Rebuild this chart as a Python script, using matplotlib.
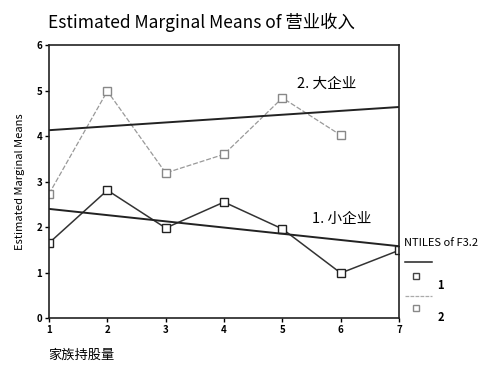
import matplotlib.pyplot as plt
from matplotlib.lines import Line2D

plt.rcParams['font.family'] = ['Noto Sans CJK SC', 'DejaVu Sans']

# family share levels (NTILES)
levels = [1, 2, 3, 4, 5, 6, 7]
small_means = [1.65, 2.81, 1.98, 2.55, 1.96, 0.99, 1.49]
large_levels = [1, 2, 3, 4, 5, 6]
large_means = [2.73, 4.99, 3.19, 3.60, 4.84, 4.02]

# fitted trend lines (end points at level 1 and 7)
trend_x = [1, 7]
small_trend = [2.40, 1.58]
large_trend = [4.13, 4.64]

fig = plt.figure(figsize=(4.97, 3.76), dpi=100)
ax = fig.add_axes([0.0986, 0.154, 0.7044, 0.726])

ax.plot(levels, small_means, color='#333333', linewidth=1.1,
        marker='s', markersize=6, markerfacecolor='white', markeredgecolor='#222222')
ax.plot(large_levels, large_means, color='#999999', linewidth=0.9, linestyle=(0, (4, 1.5)),
        marker='s', markersize=6, markerfacecolor='white', markeredgecolor='#888888')
ax.plot(trend_x, small_trend, color='#222222', linewidth=1.4)
ax.plot(trend_x, large_trend, color='#222222', linewidth=1.4)

ax.text(5.25, 5.05, '2. 大企业', fontsize=10.5, fontweight='medium')
ax.text(5.5, 2.1, '1. 小企业', fontsize=10.5, fontweight='medium')

ax.set_xlim(1, 7)
ax.set_ylim(0, 6)
ax.set_xticks(levels)
ax.set_yticks([0, 1, 2, 3, 4, 5, 6])
ax.tick_params(direction='out', length=3, width=1, labelsize=7, pad=2)
for lbl in ax.get_xticklabels() + ax.get_yticklabels():
    lbl.set_fontweight('bold')
for sp in ax.spines.values():
    sp.set_linewidth(1.2)
    sp.set_color('#222222')

ax.set_ylabel('Estimated Marginal Means', fontsize=8, fontweight='medium', labelpad=8)
fig.text(0.097, 0.045, '家族持股量', fontsize=9.5, fontweight='medium')
fig.text(0.097, 0.925, 'Estimated Marginal Means of 营业收入', fontsize=12.5, fontweight='medium')

# legend block at the right
fig.text(0.812, 0.345, 'NTILES of F3.2', fontsize=8, fontweight='medium')
fig.add_artist(Line2D([0.815, 0.87], [0.303, 0.303], color='#222222', linewidth=1.1))
fig.add_artist(Line2D([0.838], [0.265], marker='s', markersize=4.5,
                      markerfacecolor='white', markeredgecolor='#444444'))
fig.text(0.88, 0.232, '1', fontsize=8, fontweight='bold')
fig.add_artist(Line2D([0.815, 0.87], [0.213, 0.213], color='#aaaaaa', linewidth=0.9,
                      linestyle=(0, (3, 1))))
fig.add_artist(Line2D([0.838], [0.18], marker='s', markersize=4.5,
                      markerfacecolor='white', markeredgecolor='#888888'))
fig.text(0.88, 0.145, '2', fontsize=8, fontweight='bold')

fig.savefig('out.png', dpi=100)
